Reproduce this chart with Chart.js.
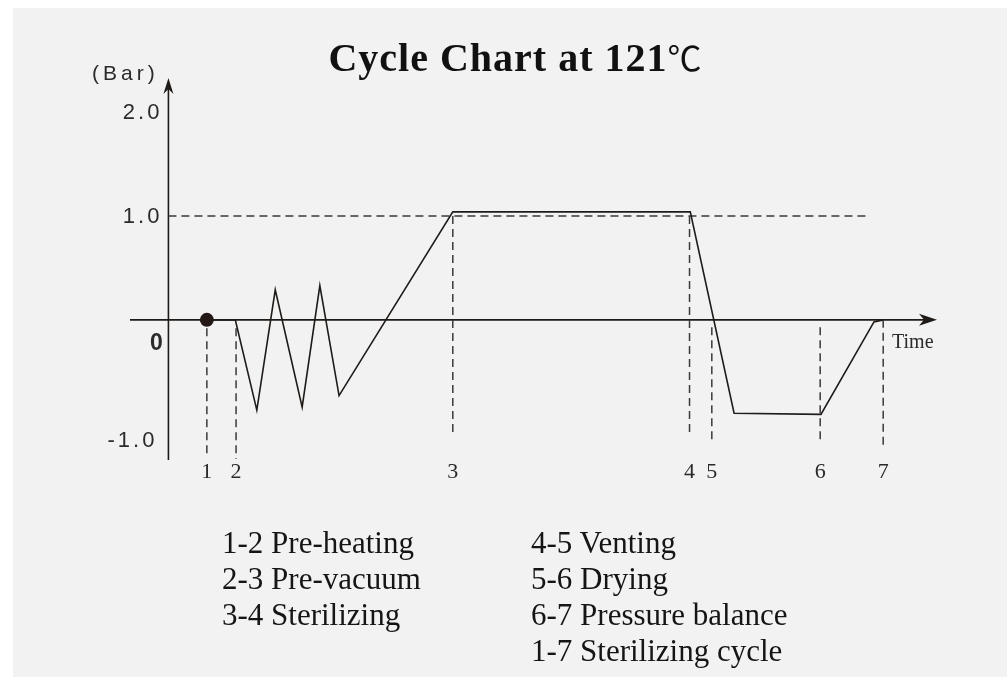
<!DOCTYPE html>
<html>
<head>
<meta charset="utf-8">
<script src="https://cdn.jsdelivr.net/npm/chart.js@4.4.1/dist/chart.umd.min.js"></script>
<style>
  html, body { margin: 0; padding: 0; background: #fff; }
  body { width: 1007px; height: 678px; position: relative; overflow: hidden; }
  #panel { position: absolute; left: 13px; top: 8px; width: 994px; height: 669px; background: #f2f2f2; }
  #wrap { position: absolute; left: 0; top: 0; width: 1007px; height: 678px; }
  #title {
    position: absolute; left: 0; top: 37px; width: 1030px; text-align: center;
    font: bold 40px/40px "Liberation Serif", serif; letter-spacing: 1px; color: #111; white-space: nowrap;
  }
  #title span { font: 400 34px/40px "Noto Sans CJK SC", "Liberation Serif", serif; letter-spacing: 0; }
  .notes { position: absolute; top: 525px; font: 31px/36px "Liberation Serif", serif; color: #151515; white-space: nowrap; }
</style>
</head>
<body>
<div id="panel"></div>
<div id="wrap"><canvas id="cycleChart"></canvas></div>
<div id="title">Cycle Chart at 121<span>℃</span></div>
<div class="notes" id="notesLeft" style="left:222px"></div>
<div class="notes" id="notesRight" style="left:531px"></div>
<script>
// pressure curve (time units, bar)
const pressureX = [5.0, 8.7, 11.5, 13.9, 17.4, 19.7, 22.2, 37.0, 67.9, 73.6, 84.9, 91.8, 93.0];
const pressureY = [0, 0, -0.87, 0.29, -0.84, 0.33, -0.73, 1.04, 1.04, -0.90, -0.91, -0.02, 0];

// phase boundaries 1..7 and their dashed guide extents
const phaseLabels = ['1', '2', '3', '4', '5', '6', '7'];
const phaseX = [5.0, 8.8, 37.0, 67.8, 70.7, 84.8, 93.0];
const guideTop = [-0.08, -0.08, 1.0, 1.0, -0.07, -0.07, 0];
const guideBottom = [-1.33, -1.34, -1.12, -1.10, -1.18, -1.15, -1.22];

// 1.0 bar reference line
const setPoint = 1.0;
const setPointFrom = 0;
const setPointTo = 91.3;

// axis
const yTickValues = [2, 1, 0, -1];
const yTickLabels = ['2.0', '1.0', '0', '-1.0'];
const xRange = [-5, 100];
const yRange = [-1.35, 2.33];

const notesLeft = ['1-2 Pre-heating', '2-3 Pre-vacuum', '3-4 Sterilizing'];
const notesRight = ['4-5 Venting', '5-6 Drying', '6-7 Pressure balance', '1-7 Sterilizing cycle'];

document.getElementById('notesLeft').innerHTML = notesLeft.join('<br>');
document.getElementById('notesRight').innerHTML = notesRight.join('<br>');

const ink = '#1f1b19';

const guideSets = phaseX.map((x, i) => ({
  data: [{ x: x, y: guideTop[i] }, { x: x, y: guideBottom[i] }],
  borderColor: '#3a3a3a', borderWidth: 1.5, borderDash: [8, 5], pointRadius: 0
}));

// axes with arrow heads + all axis text
const axesPlugin = {
  id: 'axes',
  beforeDatasetsDraw(chart) {
    const { ctx, scales: { x, y } } = chart;
    const x0 = x.getPixelForValue(0), y0 = y.getPixelForValue(0);
    const xl = x.getPixelForValue(xRange[0]), xr = x.getPixelForValue(xRange[1]);
    const yb = y.getPixelForValue(yRange[0]), yt = y.getPixelForValue(yRange[1]);
    ctx.save();
    ctx.strokeStyle = ink;
    ctx.fillStyle = ink;
    ctx.lineWidth = 1.6;
    ctx.beginPath();
    ctx.moveTo(xl, y0); ctx.lineTo(xr - 8, y0);
    ctx.moveTo(x0, yb); ctx.lineTo(x0, yt + 8);
    ctx.stroke();
    // x arrow
    ctx.beginPath();
    ctx.moveTo(xr, y0); ctx.lineTo(xr - 18, y0 - 6); ctx.lineTo(xr - 13, y0); ctx.lineTo(xr - 18, y0 + 6);
    ctx.closePath(); ctx.fill();
    // y arrow
    ctx.beginPath();
    ctx.moveTo(x0, yt); ctx.lineTo(x0 - 5, yt + 16); ctx.lineTo(x0, yt + 11); ctx.lineTo(x0 + 5, yt + 16);
    ctx.closePath(); ctx.fill();

    // y tick labels
    ctx.fillStyle = '#2b2b2b';
    ctx.textBaseline = 'alphabetic';
    yTickValues.forEach((v, i) => {
      const py = y.getPixelForValue(v);
      if (v === 0) {
        ctx.font = 'bold 23px "Liberation Sans", sans-serif';
        ctx.letterSpacing = '0px';
        ctx.textAlign = 'center';
        ctx.fillText(yTickLabels[i], x0 - 12, py + 30);
      } else {
        ctx.font = '22px "Liberation Sans", sans-serif';
        ctx.letterSpacing = '3px';
        ctx.textAlign = 'right';
        ctx.fillText(yTickLabels[i], v < 0 ? x0 - 11 : x0 - 6, v < 0 ? py + 23 : py + 7);
      }
    });
    ctx.font = '21px "Liberation Sans", sans-serif';
    ctx.letterSpacing = '4px';
    ctx.textAlign = 'left';
    ctx.fillText('(Bar)', 92, yt + 2);

    // phase labels
    ctx.letterSpacing = '0px';
    ctx.fillStyle = '#2a2a2a';
    ctx.font = '22px "Liberation Serif", serif';
    ctx.textAlign = 'center';
    phaseX.forEach((v, i) => ctx.fillText(phaseLabels[i], x.getPixelForValue(v), yb + 18));
    ctx.font = '20px "Liberation Serif", serif';
    ctx.textAlign = 'left';
    ctx.fillText('Time', xr - 45, y0 + 28);
    ctx.restore();
  }
};

new Chart(document.getElementById('cycleChart'), {
  type: 'line',
  data: {
    datasets: [
      {
        data: pressureX.map((x, i) => ({ x: x, y: pressureY[i] })),
        borderColor: ink, borderWidth: 1.6, tension: 0,
        pointRadius: c => (c.dataIndex === 0 ? 7 : 0),
        pointBackgroundColor: '#231815', pointBorderWidth: 0
      },
      {
        data: [{ x: setPointFrom, y: setPoint }, { x: setPointTo, y: setPoint }],
        borderColor: '#3a3a3a', borderWidth: 1.5, borderDash: [8, 5], pointRadius: 0
      },
      ...guideSets
    ]
  },
  options: {
    responsive: true,
    maintainAspectRatio: false,
    animation: false,
    layout: { padding: { left: 130, right: 70, top: 78, bottom: 218 } },
    scales: {
      x: { type: 'linear', min: xRange[0], max: xRange[1], display: false },
      y: { type: 'linear', min: yRange[0], max: yRange[1], display: false }
    },
    plugins: { legend: { display: false }, tooltip: { enabled: false } }
  },
  plugins: [axesPlugin]
});
</script>
</body>
</html>
